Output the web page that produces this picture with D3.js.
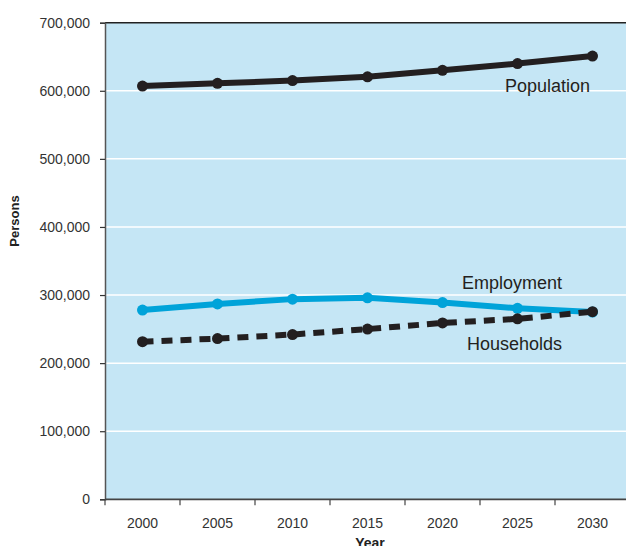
<!DOCTYPE html>
<html><head><meta charset="utf-8">
<script src="https://cdn.jsdelivr.net/npm/d3@7"></script>
<style>body{margin:0;background:#fff}svg{display:block;font-family:"Liberation Sans",Arial,sans-serif}</style>
</head><body>
<svg id="c" width="626" height="546"></svg>
<script>
const years = [2000, 2005, 2010, 2015, 2020, 2025, 2030];
const population = [607000, 611000, 615000, 620500, 630000, 640000, 651000];
const employment = [278000, 287000, 294000, 296000, 289000, 280500, 275000];
const households = [231500, 236000, 242000, 250000, 259000, 265000, 275500];
const yTicks = [0, 100000, 200000, 300000, 400000, 500000, 600000, 700000];

const svg = d3.select("#c");
const L = 105, R = 630, T = 22.7, B = 499.3;
const x = d3.scaleBand().domain(years).range([L, R]);
const y = d3.scaleLinear().domain([0, 700000]).range([B, T]);
const fmt = d3.format(",");

svg.append("rect").attr("x", L).attr("y", T).attr("width", R - L).attr("height", B - T).attr("fill", "#c5e6f5");

svg.append("g").selectAll("line").data(yTicks.filter(d => d > 0 && d < 700000)).join("line")
  .attr("x1", L).attr("x2", R).attr("y1", d => y(d)).attr("y2", d => y(d))
  .attr("stroke", "#fff").attr("stroke-width", 1.5);

// top border
svg.append("line").attr("x1", L).attr("x2", R).attr("y1", T).attr("y2", T).attr("stroke", "#222").attr("stroke-width", 1.5);

// y axis
const yAxis = svg.append("g").attr("transform", `translate(${L},0)`)
  .call(d3.axisLeft(y).tickValues(yTicks).tickFormat(fmt).tickSize(5).tickPadding(10));
yAxis.select(".domain").attr("stroke", "#555").attr("stroke-width", 1.5);
yAxis.selectAll(".tick line").attr("stroke", "#333").attr("stroke-width", 1.2);
yAxis.selectAll("text").attr("font-size", 14).attr("fill", "#333").attr("font-family", "Liberation Sans, Arial, sans-serif");

// x axis
const xAxis = svg.append("g").attr("transform", `translate(0,${B})`)
  .call(d3.axisBottom(x).tickSize(0).tickPadding(19).tickFormat(d => d));
xAxis.select(".domain").remove();
xAxis.selectAll("text").attr("font-size", 14).attr("fill", "#333").attr("font-family", "Liberation Sans, Arial, sans-serif");
svg.append("line").attr("x1", L).attr("x2", R).attr("y1", B).attr("y2", B).attr("stroke", "#444").attr("stroke-width", 1.8);
svg.append("g").selectAll("line").data(years).join("line")
  .attr("x1", d => x(d)).attr("x2", d => x(d)).attr("y1", B).attr("y2", B + 6)
  .attr("stroke", "#444").attr("stroke-width", 1.2);

// axis titles
svg.append("text").attr("transform", "translate(19,221) rotate(-90)").attr("text-anchor", "middle")
  .attr("font-size", 13).attr("font-weight", "bold").attr("fill", "#222").text("Persons");
svg.append("text").attr("x", 370).attr("y", 548).attr("text-anchor", "middle")
  .attr("font-size", 14).attr("font-weight", "bold").attr("fill", "#222").text("Year");

const cx = d => x(d) + x.bandwidth() / 2;
const line = d3.line().x((d, i) => cx(years[i])).y(d => y(d));

function series(vals, color, width, dash) {
  const g = svg.append("g");
  g.append("path").datum(vals).attr("d", line).attr("fill", "none")
    .attr("stroke", color).attr("stroke-width", width).attr("stroke-dasharray", dash || null);
  g.selectAll("circle").data(vals).join("circle")
    .attr("cx", (d, i) => cx(years[i])).attr("cy", d => y(d)).attr("r", 5.5).attr("fill", color);
}
series(employment, "#00a3d9", 6);
series(households, "#231f20", 6, "11,8");
series(population, "#231f20", 6);

svg.append("text").attr("x", 505).attr("y", 92).attr("font-size", 18).attr("fill", "#231f20").text("Population");
svg.append("text").attr("x", 462).attr("y", 289).attr("font-size", 18).attr("fill", "#231f20").text("Employment");
svg.append("text").attr("x", 467).attr("y", 350).attr("font-size", 18).attr("fill", "#231f20").text("Households");
</script>
</body></html>
